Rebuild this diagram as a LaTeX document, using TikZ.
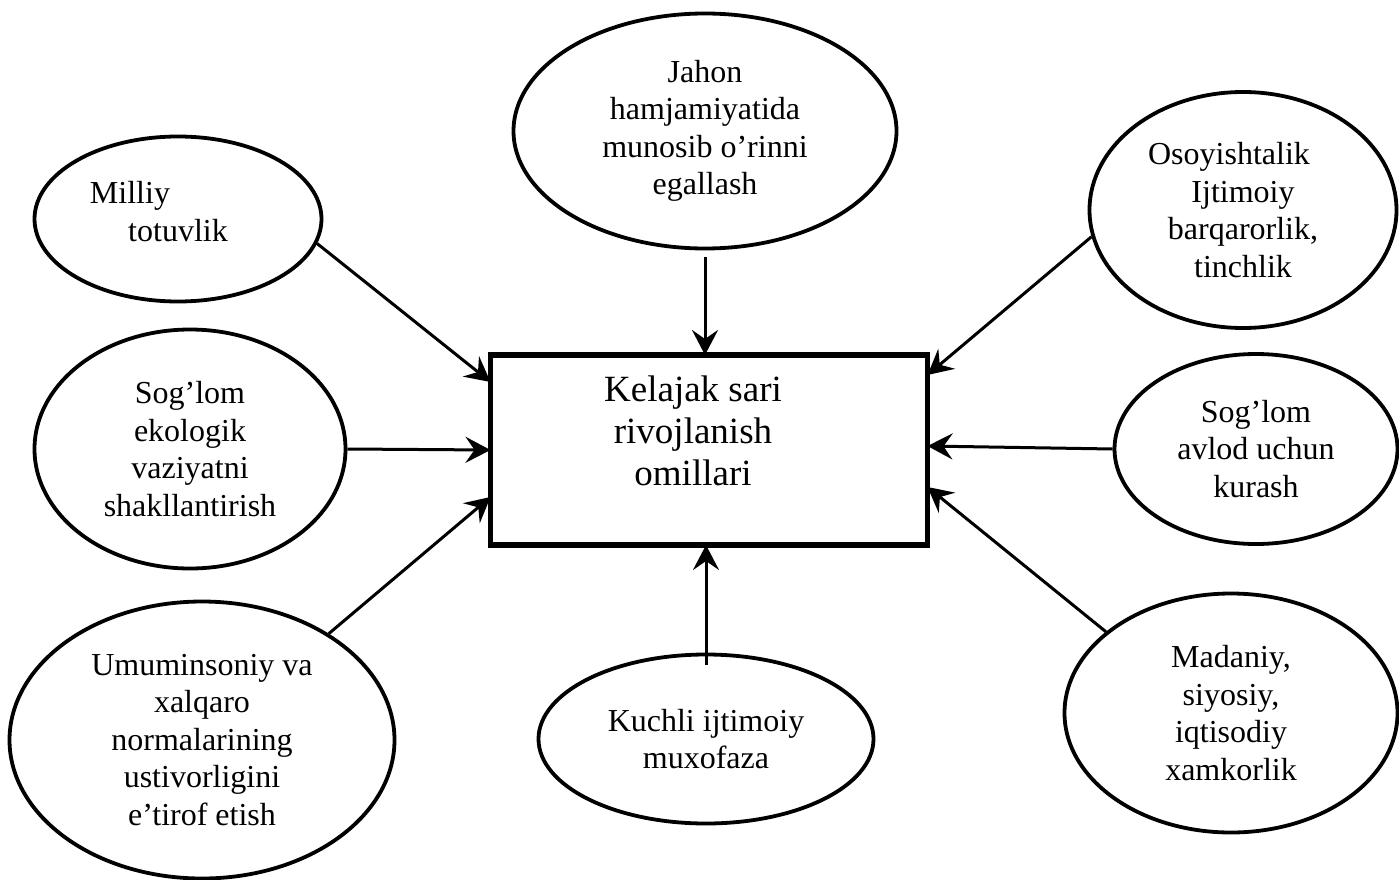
\documentclass[tikz,border=0pt]{standalone}
\usepackage{fontspec}
\setmainfont{Liberation Serif}
\usetikzlibrary{arrows.meta, shapes.geometric}

\begin{document}
\begin{tikzpicture}[
  x=1pt, y=-1pt,
  oval/.style={ellipse, draw, line width=3.8pt, inner sep=0pt, align=center, font=\fontsize{32}{37.5}\selectfont},
  mainbox/.style={rectangle, draw, line width=5.5pt, inner sep=0pt, outer sep=0pt, minimum width=437pt, minimum height=190pt},
  every edge/.style={draw, line width=3pt, -{Stealth[length=25pt, width=26pt, inset=9pt]}}
  ]
\useasboundingbox (0,0) rectangle (1399,880);

% Nodes
\node[mainbox] (kelajak) at (709,450) {};
\node[align=center, font=\fontsize{37}{42}\selectfont] (kelajaktxt) at (693,431) {Kelajak sari\\ rivojlanish\\ omillari};

\node[oval, minimum width=383pt, minimum height=235pt] (jahon) at (705,131) {Jahon\\ hamjamiyatida\\ munosib o’rinni\\ egallash};
\node[oval, minimum width=287pt, minimum height=165pt] (milliy) at (178,219) {Milliy\hspace*{96pt}\\ totuvlik\\[-22pt]};
\node[oval, minimum width=311pt, minimum height=239pt] (ekologik) at (190,449) {Sog’lom\\ ekologik\\ vaziyatni\\ shakllantirish};
\node[oval, minimum width=385pt, minimum height=277pt] (umuminsoniy) at (202,740) {Umuminsoniy va\\ xalqaro\\ normalarining\\ ustivorligini\\ e’tirof etish};
\node[oval, minimum width=335pt, minimum height=169pt] (kuchli) at (706,739) {Kuchli ijtimoiy\\ muxofaza};
\node[oval, minimum width=307pt, minimum height=236pt] (osoy) at (1243,210) {Osoyishtalik\hspace*{28pt}\\ Ijtimoiy\\ barqarorlik,\\ tinchlik};
\node[oval, minimum width=283pt, minimum height=190pt] (avlod) at (1256,449) {Sog’lom\\ avlod uchun\\ kurash};
\node[oval, minimum width=333pt, minimum height=239pt] (madaniy) at (1231,713) {Madaniy,\\ siyosiy,\\ iqtisodiy\\ xamkorlik};

% Edges
\path (milliy.-10) edge ([yshift=68pt]kelajak.west);
\path (ekologik.east) edge (kelajak.west);
\path (umuminsoniy.40) edge ([yshift=-47pt]kelajak.west);
\path ([yshift=-7pt]jahon.south) edge (jahon.south |- kelajak.north);
\path ([yshift=-12pt]kuchli.north) edge (kuchli.north |- kelajak.south);
\path (osoy.190) edge ([yshift=75pt]kelajak.east);
\path (avlod.west) edge ([yshift=4pt]kelajak.east);
\path (madaniy.147) edge ([yshift=-37pt]kelajak.east);

\end{tikzpicture}
\end{document}
